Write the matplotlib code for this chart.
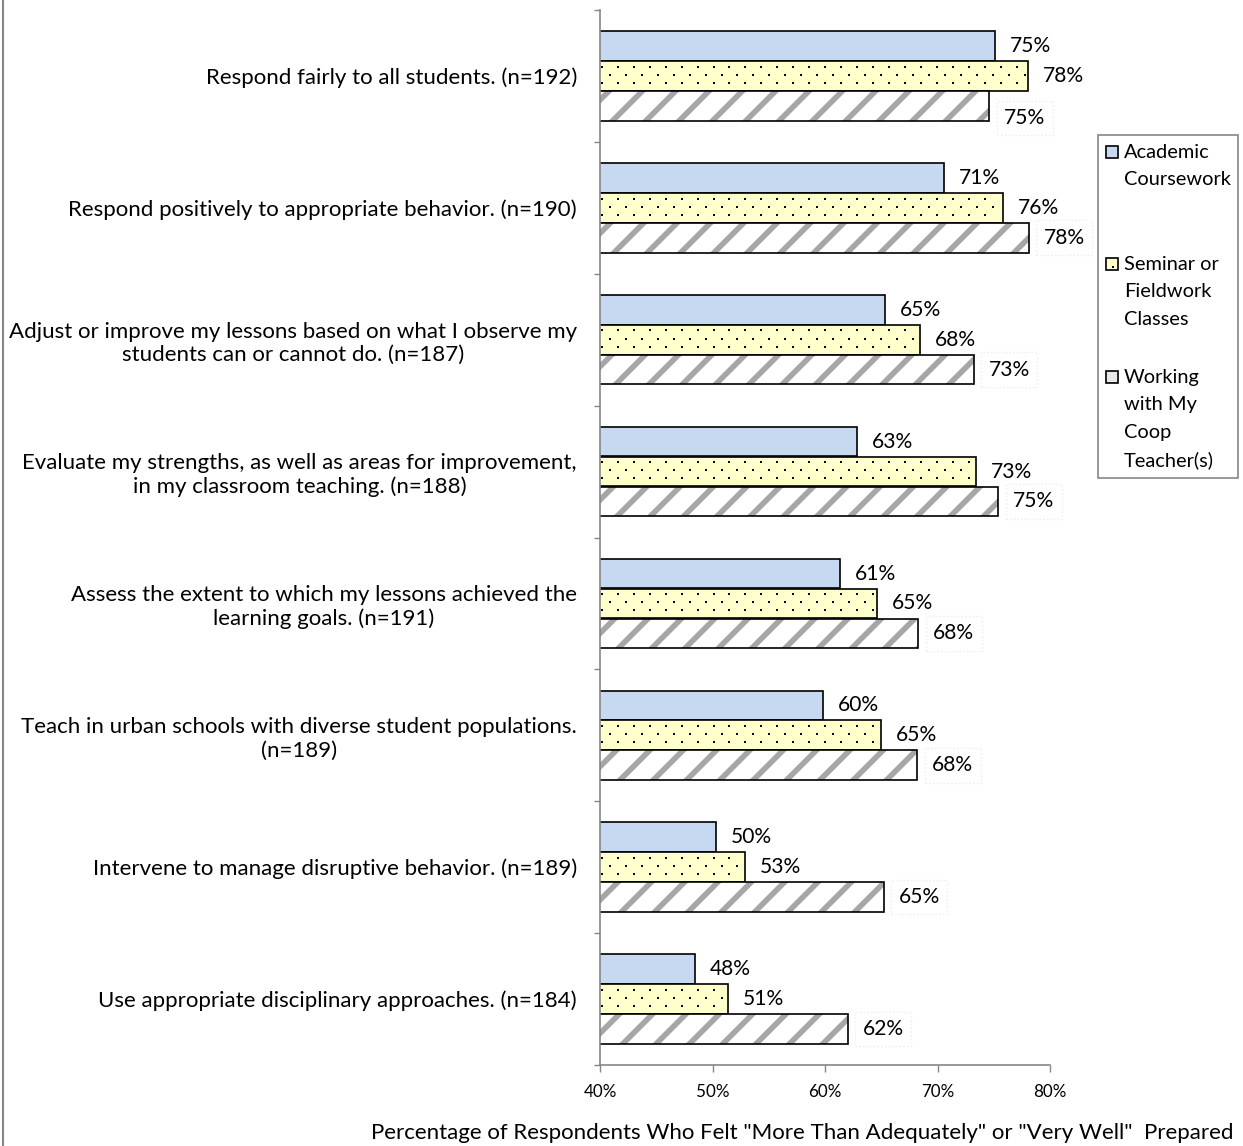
import matplotlib.pyplot as plt
import numpy as np
from matplotlib.patches import Rectangle
from matplotlib.lines import Line2D

W, H, DPI = 1243, 1146, 100


def pt(px):
    # pixel size -> points at this dpi
    return px * 72.0 / DPI


def fx(x):
    return x / W


def fy(y):
    return 1 - y / H


categories = [
    'Respond fairly to all students. (n=192)',
    'Respond positively to appropriate behavior. (n=190)',
    'Adjust or improve my lessons based on what I observe my\nstudents can or cannot do. (n=187)',
    'Evaluate my strengths, as well as areas for improvement,\nin my classroom teaching. (n=188)',
    'Assess the extent to which my lessons achieved the\nlearning goals. (n=191)',
    'Teach in urban schools with diverse student populations.\n(n=189)',
    'Intervene to manage disruptive behavior. (n=189)',
    'Use appropriate disciplinary approaches. (n=184)',
]
academic = [75.1, 70.6, 65.3, 62.8, 61.3, 59.8, 50.3, 48.4]
seminar = [78.0, 75.8, 68.4, 73.4, 64.6, 65.0, 52.9, 51.4]
coop = [74.6, 78.1, 73.2, 75.4, 68.3, 68.2, 65.2, 62.0]
series_names = ['Academic\nCoursework', 'Seminar or\nFieldwork\nClasses',
                'Working\nwith My\nCoop\nTeacher(s)']
xticks = [40, 50, 60, 70, 80]
xlabel = 'Percentage of Respondents Who Felt "More Than Adequately" or "Very Well"  Prepared'

plt.rcParams['font.family'] = ['Lato', 'DejaVu Sans']
plt.rcParams['hatch.linewidth'] = 4.0

blue = '#c6d9f1'
yellow = '#ffffcc'
grey = '#a6a6a6'
axis_col = '#868686'

fig = plt.figure(figsize=(W / DPI, H / DPI), dpi=DPI)
ax = fig.add_axes([fx(600), fy(1065), (1050 - 600) / W, (1065 - 10) / H])

y = np.arange(len(categories))
bh = 0.225
off = 0.227
xmin, xmax = 40, 80

ax.barh(y - off, academic, height=bh, color=blue, edgecolor='black', linewidth=1.2)
ax.barh(y, seminar, height=bh, color=yellow, edgecolor='black', linewidth=1.2)
ax.barh(y + off, coop, height=bh, color='white', edgecolor=grey, linewidth=0, hatch='/')
ax.barh(y + off, coop, height=bh, fill=False, edgecolor='black', linewidth=1.2)

# dotted texture on the seminar bars: staggered rows of small square dots
dot_dx = 1.42
dot_rows = [0.19, 0.46, 0.73]
dx, dy = [], []
for i, v in enumerate(seminar):
    top = i - bh / 2
    for r, frac in enumerate(dot_rows):
        start = xmin + 0.15 + (dot_dx / 2 if r == 1 else 0)
        xs = np.arange(start, v - 0.2, dot_dx)
        dx.extend(xs)
        dy.extend([top + bh * frac] * len(xs))
ax.scatter(dx, dy, marker='s', s=3.5, color='black', linewidths=0, zorder=3)

# value labels; the first coop label sits a little lower than its bar
nudge = {(2, 0): -12}
lab_size = pt(21)
for k, (vals, d) in enumerate([(academic, -off), (seminar, 0), (coop, off)]):
    for i, v in enumerate(vals):
        kw = {}
        if k == 2:
            kw['bbox'] = dict(boxstyle='square,pad=0.35', fc='none', ec='#e6eef3', ls=':', lw=1)
        ax.annotate(f'{v:.0f}%', (v, i + d), xytext=(pt(15), pt(nudge.get((k, i), 0))),
                    textcoords='offset points', va='center', ha='left',
                    fontsize=lab_size, color='black', **kw)

ax.set_xlim(xmin, xmax)
ax.set_ylim(len(categories) - 0.5, -0.5)
ax.set_xticks(xticks)
ax.set_xticklabels([f'{t}%' for t in xticks], fontsize=pt(17))
ax.tick_params(axis='x', direction='out', length=pt(7), width=1, color=axis_col, pad=pt(12))

ax.set_yticks(y)
ax.set_yticklabels(categories, fontsize=pt(22.3))
for t in ax.get_yticklabels():
    t.set_multialignment('center')
ax.tick_params(axis='y', which='major', length=0, pad=pt(23))
ax.set_yticks(np.arange(len(categories) + 1) - 0.5, minor=True)
ax.tick_params(axis='y', which='minor', direction='out', length=pt(6), width=1, color=axis_col)

for s in ['top', 'right']:
    ax.spines[s].set_visible(False)
for s in ['left', 'bottom']:
    ax.spines[s].set_color(axis_col)
    ax.spines[s].set_linewidth(1.2)

fig.text(fx(802), fy(1133), xlabel, ha='center', va='center', fontsize=pt(22.3))

# legend box drawn by hand so the keys sit on the first line of each label
fig.patches.append(Rectangle((fx(1098), fy(478)), fx(1238) - fx(1098), fy(135) - fy(478),
                             transform=fig.transFigure, fill=False, edgecolor=axis_col, lw=1.2))
key_styles = [dict(facecolor=blue, edgecolor='black'),
              dict(facecolor=yellow, edgecolor='black'),
              dict(facecolor='#e8e8e8', edgecolor='black')]
tops = [152, 264, 377]
line_h = 27.7
for name, st, top in zip(series_names, key_styles, tops):
    fig.patches.append(Rectangle((fx(1106), fy(top + 6)), fx(12), fy(0) - fy(12),
                                 transform=fig.transFigure, lw=1.2, **st))
    for k, line in enumerate(name.split('\n')):
        fig.text(fx(1124), fy(top + k * line_h), line, ha='left', va='center',
                 fontsize=pt(20))
# single dot inside the seminar key
fig.patches.append(Rectangle((fx(1112), fy(268)), fx(2), fy(0) - fy(2),
                             transform=fig.transFigure, lw=0, facecolor='black'))

# outer border on the left edge
fig.add_artist(Line2D([fx(3), fx(3)], [0, 1], transform=fig.transFigure, color=axis_col, lw=1.5))

fig.savefig('out.png', dpi=DPI)
